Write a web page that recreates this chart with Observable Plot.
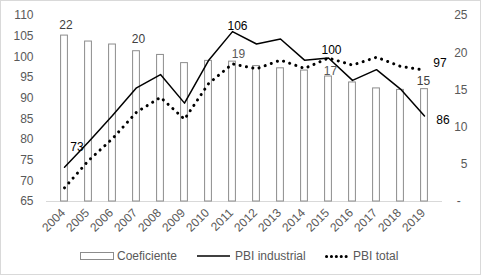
<!DOCTYPE html>
<html>
<head>
<meta charset="utf-8">
<script src="https://cdn.jsdelivr.net/npm/d3@7"></script>
<script src="https://cdn.jsdelivr.net/npm/@observablehq/plot@0.6"></script>
<style>
  html, body { margin: 0; padding: 0; background: white; }
  #wrap { position: relative; width: 481px; height: 275px; overflow: hidden; background: white;
          font-family: "Liberation Sans", Arial, sans-serif; font-size: 12px; color: #595959; }
  #chart { position: absolute; left: 0; top: 0; }
  #border { position: absolute; left: 0; top: 0; width: 481px; height: 275px; box-sizing: border-box;
            border: 1px solid #d9d9d9; pointer-events: none; }
  .lg { position: absolute; top: 248px; height: 16px; line-height: 16px; white-space: nowrap; }
  .lg svg { position: absolute; top: 0; left: 0; }
</style>
</head>
<body>
<div id="wrap">
  <div id="chart"></div>
  <div class="lg" style="left:80px;"><svg width="36" height="16"><rect x="0.5" y="4.5" width="33" height="7" fill="white" stroke="#8c8c8c"/></svg><span style="margin-left:37px">Coeficiente</span></div>
  <div class="lg" style="left:197px;"><svg width="36" height="16"><line x1="0" x2="33" y1="8" y2="8" stroke="black" stroke-width="1.5"/></svg><span style="margin-left:38px">PBI industrial</span></div>
  <div class="lg" style="left:325px;"><svg width="30" height="16"><line x1="1.5" x2="26" y1="8.5" y2="8.5" stroke="black" stroke-width="3" stroke-linecap="round" stroke-dasharray="0.1 4.8"/></svg><span style="margin-left:28px">PBI total</span></div>
  <div id="border"></div>
</div>
<script>
const years = ["2004","2005","2006","2007","2008","2009","2010","2011","2012","2013","2014","2015","2016","2017","2018","2019"];
const coeficiente = [22.3, 21.5, 21.1, 20.2, 19.7, 18.6, 18.9, 18.8, 18.2, 17.9, 17.6, 16.8, 16.0, 15.2, 15.0, 15.1];
const pbiIndustrial = [73.3, 79.4, 85.8, 92.5, 95.7, 88.8, 99.1, 106.1, 103.1, 104.3, 99.2, 99.7, 94.3, 96.9, 92.2, 85.7];
const pbiTotal = [68.3, 74.9, 80.2, 86.6, 90.2, 84.9, 93.5, 98.3, 97.1, 99.2, 97.2, 99.7, 98.0, 99.9, 97.7, 96.8];
const leftTicks = [65, 70, 75, 80, 85, 90, 95, 100, 105, 110];
const rightTicks = [0, 5, 10, 15, 20, 25];
const rightTickLabels = ["-\u2007", "5", "10", "15", "20", "25"];

// right axis (0–25) mapped onto left axis (65–110)
const toLeft = v => 65 + v * 45 / 25;

const data = years.map((year, i) => ({year, coef: coeficiente[i], ind: pbiIndustrial[i], tot: pbiTotal[i]}));

const grey = "#595959";
const label = (year, y, text, dx, dy, fill) =>
  Plot.text(data, {filter: d => d.year === year, x: "year", y, text, dx, dy, lineAnchor: "bottom", fill});

const chart = Plot.plot({
  width: 481,
  height: 240,
  marginLeft: 46,
  marginRight: 39,
  marginTop: 15,
  marginBottom: 39,
  style: {fontFamily: "'Liberation Sans', Arial, sans-serif", fontSize: "12px", color: grey, background: "transparent", overflow: "visible"},
  x: {type: "band", domain: years, padding: 0, axis: null},
  y: {domain: [65, 110], axis: null},
  marks: [
    Plot.ruleY([65], {stroke: "#d9d9d9", strokeWidth: 1}),
    Plot.barY(data, {x: "year", y1: () => 65, y2: d => toLeft(d.coef), fill: "white", stroke: "#8c8c8c", strokeWidth: 1, insetLeft: 8.6, insetRight: 8.6}),
    Plot.line(data, {x: "year", y: "ind", stroke: "black", strokeWidth: 1.5}),
    Plot.line(data, {x: "year", y: "tot", stroke: "black", strokeWidth: 3, strokeLinecap: "round", strokeDasharray: "0.1 6.4"}),
    // left axis
    Plot.text(leftTicks, {y: d => d, text: d => String(d), frameAnchor: "left", textAnchor: "end", dx: -13, fill: grey}),
    // right axis
    Plot.text(rightTicks, {y: d => toLeft(d), text: (d, i) => rightTickLabels[i], frameAnchor: "right", textAnchor: "end", dx: 25, fill: grey}),
    // x axis labels
    Plot.text(years, {x: d => d, text: d => d, frameAnchor: "bottom", rotate: -45, textAnchor: "end", dx: 1.5, dy: 12, fill: grey}),
    // bar labels
    label("2004", d => toLeft(d.coef), d => d3.format(".0f")(d.coef), 1.5, -7, "#404040"),
    label("2007", d => toLeft(d.coef), d => d3.format(".0f")(d.coef), 2, -8, "#404040"),
    label("2011", d => toLeft(d.coef), d => d3.format(".0f")(d.coef), 6, -4, grey),
    label("2015", d => toLeft(d.coef), d => d3.format(".0f")(d.coef), 2, -2, grey),
    label("2019", d => toLeft(d.coef), d => d3.format(".0f")(d.coef), -1, -4, "#404040"),
    // PBI industrial labels
    label("2004", "ind", d => d3.format(".0f")(d.ind), 12.5, -16.5, "#000"),
    label("2011", "ind", d => d3.format(".0f")(d.ind), 5, -2, "#000"),
    label("2015", "ind", d => d3.format(".0f")(d.ind), 3, -4.5, "#000"),
    label("2019", "ind", d => d3.format(".0f")(d.ind), 18.4, 8.3, "#000"),
    // PBI total label
    label("2019", "tot", d => d3.format(".0f")(d.tot), 15.4, -3.3, "#000")
  ]
});
document.getElementById("chart").appendChild(chart);
</script>
</body>
</html>
